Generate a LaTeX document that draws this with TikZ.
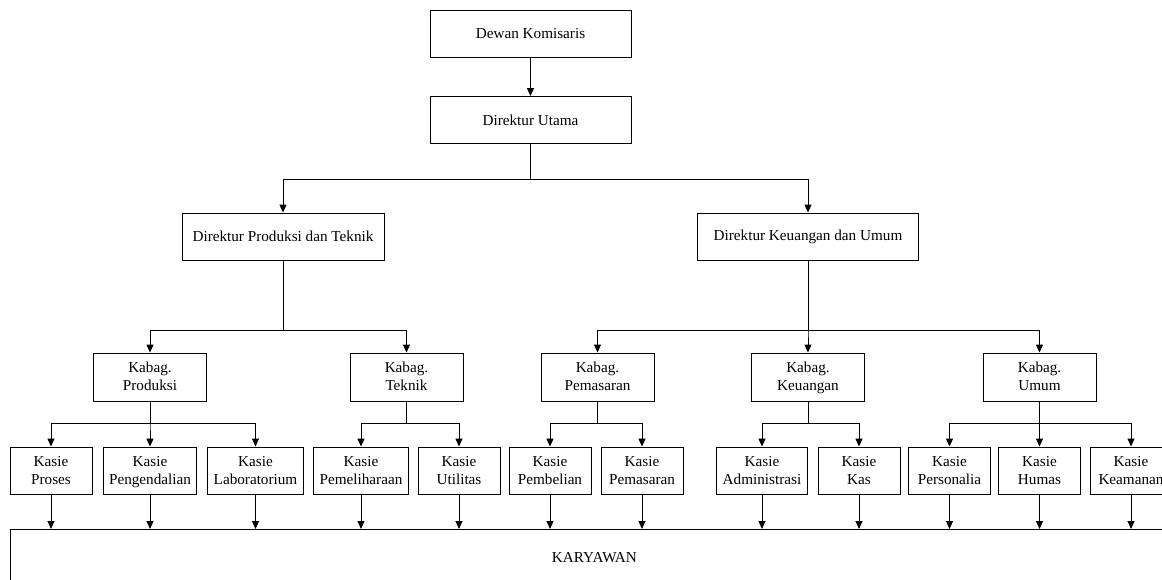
\documentclass[tikz,border=0pt]{standalone}
\usepackage{fontspec}
\setmainfont{Liberation Serif}
\usetikzlibrary{arrows.meta}
\usetikzlibrary{positioning}

\begin{document}
\begin{tikzpicture}[->,>={Triangle[length=8pt,width=7pt]},x=1pt,y=1pt,line width=0.9pt,
                    every node/.append style={draw,rectangle,align=center,line width=0.9pt,
                      font=\fontsize{15.2}{18}\selectfont},
                    pimpinan/.style={minimum width=201pt,minimum height=47pt},
                    direktur/.style={minimum height=47pt,minimum width=#1},
                    kabag/.style={minimum width=113pt,minimum height=48pt,text depth=1pt},
                    kasie/.style={minimum width=82pt,minimum height=47pt,inner xsep=6pt,text depth=1pt},
                    siku/.style={to path={(\tikztostart.south) -- ++(0,-#1) -| (\tikztotarget.north)}},
                    turun/.style={to path={(\tikztostart.south) -- (\tikztostart.south |- \tikztotarget.north)}}]

\path[use as bounding box] (0,0) rectangle (1162,-579);

\node[pimpinan] (dk) at (530.5,-33.5) {Dewan Komisaris};
\node[pimpinan] (du) at (530.5,-120) {Direktur Utama};
\node[direktur=202pt] (dpt) at (283,-236.5) {Direktur Produksi dan Teknik};
\node[direktur=221pt] (dku) at (808,-236.5) {Direktur Keuangan dan Umum};

\node[kabag] (kprod) at (150,-377) {Kabag.\\ Produksi};
\node[kabag] (ktek) at (406.5,-377) {Kabag.\\ Teknik};
\node[kabag] (kpem) at (597.5,-377) {Kabag.\\ Pemasaran};
\node[kabag] (kkeu) at (808,-377) {Kabag.\\ Keuangan};
\node[kabag] (kum) at (1039.5,-377) {Kabag.\\ Umum};

\node[kasie] (sproses) at (51,-470.5) {Kasie\\ Proses};
\node[kasie] (spengen) at (150,-470.5) {Kasie\\ Pengendalian};
\node[kasie] (slab) at (255.5,-470.5) {Kasie\\ Laboratorium};
\node[kasie] (spelihara) at (361,-470.5) {Kasie\\ Pemeliharaan};
\node[kasie] (sutil) at (459,-470.5) {Kasie\\ Utilitas};
\node[kasie] (sbeli) at (550,-470.5) {Kasie\\ Pembelian};
\node[kasie] (spasar) at (642,-470.5) {Kasie\\ Pemasaran};
\node[kasie] (sadm) at (762,-470.5) {Kasie\\ Administrasi};
\node[kasie] (skas) at (859,-470.5) {Kasie\\ Kas};
\node[kasie] (sperso) at (949.5,-470.5) {Kasie\\ Personalia};
\node[kasie] (shumas) at (1039.5,-470.5) {Kasie\\ Humas};
\node[kasie] (saman) at (1131,-470.5) {Kasie\\ Keamanan};

\node[minimum width=1168pt,minimum height=56pt,anchor=north west] (kar) at (10,-529) {KARYAWAN};

\draw (dk) -- (du);
\draw (du) edge[siku=35] (dpt)
           edge[siku=35] (dku);
\draw (dpt) edge[siku=70] (kprod)
            edge[siku=70] (ktek);
\draw (dku) edge[siku=70] (kpem)
            edge[siku=70] (kkeu)
            edge[siku=70] (kum);
\draw (kprod) edge[siku=22] (sproses)
              edge[siku=22] (spengen)
              edge[siku=22] (slab);
\draw (ktek) edge[siku=22] (spelihara)
             edge[siku=22] (sutil);
\draw (kpem) edge[siku=22] (sbeli)
             edge[siku=22] (spasar);
\draw (kkeu) edge[siku=22] (sadm)
             edge[siku=22] (skas);
\draw (kum) edge[siku=22] (sperso)
            edge[siku=22] (shumas)
            edge[siku=22] (saman);

\draw (sproses) edge[turun] (kar);
\draw (spengen) edge[turun] (kar);
\draw (slab) edge[turun] (kar);
\draw (spelihara) edge[turun] (kar);
\draw (sutil) edge[turun] (kar);
\draw (sbeli) edge[turun] (kar);
\draw (spasar) edge[turun] (kar);
\draw (sadm) edge[turun] (kar);
\draw (skas) edge[turun] (kar);
\draw (sperso) edge[turun] (kar);
\draw (shumas) edge[turun] (kar);
\draw (saman) edge[turun] (kar);

\end{tikzpicture}
\end{document}
